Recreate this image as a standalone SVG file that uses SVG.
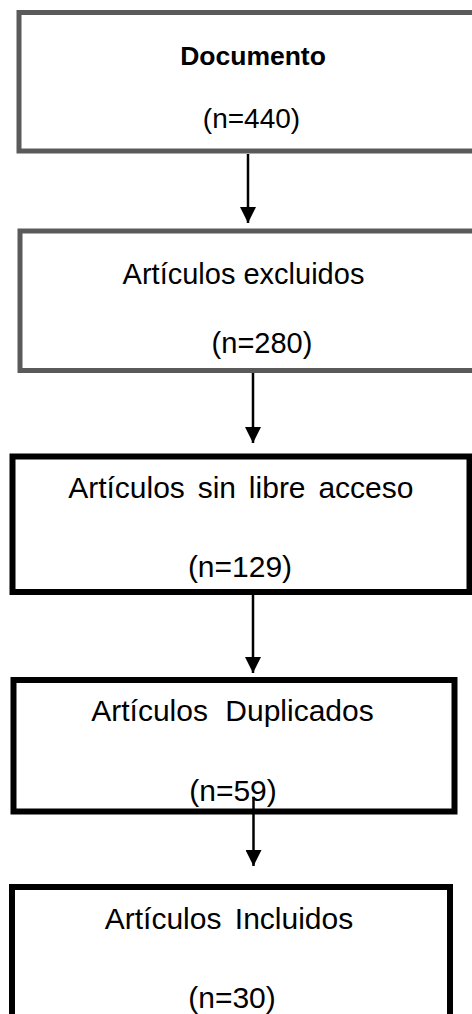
<svg xmlns="http://www.w3.org/2000/svg" width="472" height="1014" viewBox="0 0 472 1014">
  <style>
    .gray { fill: #ffffff; stroke: #5a5a5a; stroke-width: 5; }
    .black { fill: #ffffff; stroke: #000000; stroke-width: 6; }
    text { font-family: "Liberation Sans", Arial, sans-serif; fill: #000000; text-anchor: middle; }
    .t { font-size: 29px; }
    .t30 { font-size: 30px; }
    .b { font-size: 26.5px; font-weight: bold; }
    .conn { stroke: #000000; stroke-width: 2.5; fill: none; }
  </style>
  <defs>
    <marker id="arrow" markerUnits="userSpaceOnUse" markerWidth="16" markerHeight="16" viewBox="0 0 16 16" refX="16" refY="8" orient="auto">
      <path d="M0,0 L16,8 L0,16 Z" fill="#000000"/>
    </marker>
  </defs>
  <rect width="472" height="1014" fill="#ffffff"/>

  <g id="node-documento">
    <rect class="gray" x="19" y="12.5" width="470" height="138.5"/>
    <text class="b" x="253" y="65">Documento</text>
    <text class="t" x="251.5" y="128" style="font-size:28px">(n=440)</text>
  </g>

  <g id="node-excluidos">
    <rect class="gray" x="20" y="231" width="470" height="139.5"/>
    <text class="t" x="243.5" y="284">Artículos excluidos</text>
    <text class="t" x="262" y="353">(n=280)</text>
  </g>

  <g id="node-sin-acceso">
    <rect class="black" x="12.5" y="456.5" width="457" height="135.5"/>
    <text class="t30" x="240.8" y="498" style="word-spacing:4.5px">Artículos sin libre acceso</text>
    <text class="t30" x="240" y="577">(n=129)</text>
  </g>

  <g id="node-duplicados">
    <rect class="black" x="13.5" y="680" width="441" height="131.5"/>
    <text class="t30" x="232.5" y="721" style="word-spacing:9px">Artículos Duplicados</text>
    <text class="t30" x="233" y="801">(n=59)</text>
  </g>

  <g id="node-incluidos">
    <rect class="black" x="12" y="887" width="438" height="140"/>
    <text class="t30" x="229" y="929" style="word-spacing:5px">Artículos Incluidos</text>
    <text class="t30" x="232" y="1008">(n=30)</text>
  </g>

  <g id="connectors">
    <line class="conn" x1="248" y1="154" x2="248" y2="223" marker-end="url(#arrow)"/>
    <line class="conn" x1="253" y1="373" x2="253" y2="443" marker-end="url(#arrow)"/>
    <line class="conn" x1="253" y1="595" x2="253" y2="673" marker-end="url(#arrow)"/>
    <line class="conn" x1="253.5" y1="797" x2="253.5" y2="866" marker-end="url(#arrow)"/>
  </g>
</svg>
